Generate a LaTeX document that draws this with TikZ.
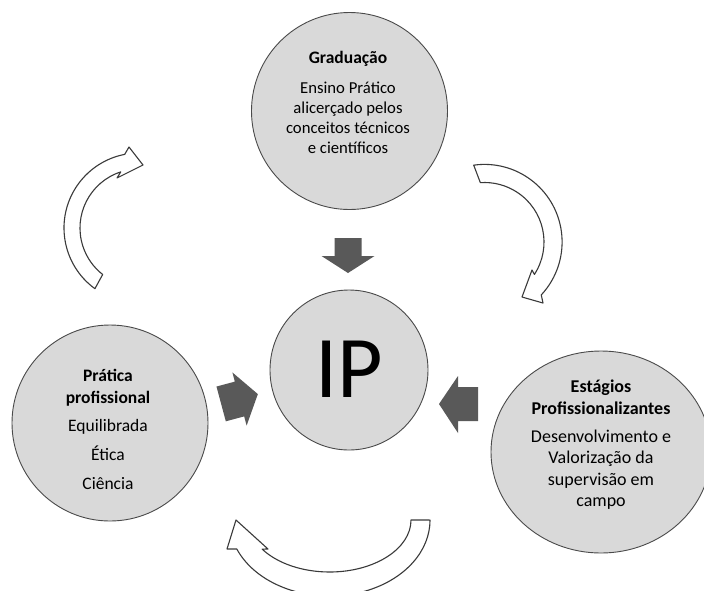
\documentclass[tikz,border=0pt]{standalone}
\usepackage{fontspec}
\setmainfont{Carlito}
\usetikzlibrary{shapes.geometric}
\definecolor{bubblefill}{HTML}{D9D9D9}
\definecolor{bubbleline}{HTML}{4A4A4A}
\definecolor{blockfill}{HTML}{595959}
\definecolor{curvline}{HTML}{3A3A3A}
\begin{document}
\begin{tikzpicture}[x=1pt,y=-1pt,
  bubble/.style={ellipse, draw=bubbleline, fill=bubblefill, line width=0.9pt, inner sep=0pt},
  blockarrow/.style={fill=blockfill, draw=none},
  curvedarrow/.style={fill=white, draw=curvline, line width=1.1pt, line join=round},
  txt/.style={align=center, inner sep=0pt, text=black}]
\clip (0,0) rectangle (704,590);
\fill[white] (0,0) rectangle (704,590);

% circles
\node[bubble, minimum width=196pt, minimum height=197pt] (grad) at (349.5,111) {};
\node[bubble, minimum width=158pt, minimum height=160pt] (ip) at (349,370) {};
\node[bubble, minimum width=196pt, minimum height=196pt] (prat) at (110,423) {};
\node[bubble, minimum width=220pt, minimum height=202pt] (estag) at (601,452) {};

% texts
\node[txt, font=\fontsize{16.7}{20}\selectfont] (gradtxt) at (348,102.5)
  {\textbf{\fontsize{17.5}{20}\selectfont Graduação}\\[10.5pt]Ensino Prático\\alicerçado pelos\\conceitos técnicos\\e científicos};
\node[txt, font=\fontsize{88}{88}\selectfont] (iptxt) at (349.5,369.5) {IP};
\node[txt, font=\fontsize{17.5}{22}\selectfont] (prattxt) at (108,429)
  {\textbf{Prática}\\\textbf{profissional}\\[6pt]Equilibrada\\[7pt]Ética\\[7pt]Ciência};
\node[txt, font=\fontsize{18}{21.5}\selectfont] (estagtxt) at (601,445)
  {\textbf{Estágios}\\\textbf{Profissionalizantes}\\[6.5pt]Desenvolvimento e\\Valorização da\\supervisão em\\campo};

% block arrows
\fill[blockarrow] (334.5,238) -- (361.5,238) -- (361.5,256) -- (374.5,256) -- (348,273)
  -- (321.5,256) -- (334.5,256) -- cycle;
\fill[blockarrow] (478,387) -- (478,421) -- (458,421) -- (458,433) -- (439,404)
  -- (458,376) -- (458,387) -- cycle;
\begin{scope}[shift={(239.5,399)}, rotate=15]
\fill[blockarrow] (-19,-18) -- (0,-18) -- (0,-27.5) -- (19,0) -- (0,27.5) -- (0,18)
  -- (-19,18) -- cycle;
\end{scope}

% curved arrows
\draw[curvedarrow] ([shift={(126:75)}]139,228) arc[start angle=126, end angle=259, radius=75]
  -- (129,147) -- (143,165) -- (117,178)
  -- ([shift={(252:59)}]139,228) arc[start angle=252, end angle=128, radius=59] -- cycle;
\draw[curvedarrow] ([shift={(-98:77.6)}]484.5,242) arc[start angle=-98, end angle=43, radius=77.6]
  -- (543,303) -- (522,297) -- (532,270)
  -- ([shift={(33:59.5)}]484.5,242) arc[start angle=33, end angle=-94, radius=59.5] -- cycle;
\draw[curvedarrow] (411,520) arc[start angle=0, end angle=146, x radius=81.4, y radius=52]
  -- (268,549) -- (236,520) -- (227,549) -- (236.8,549)
  arc[start angle=157.6, end angle=0, x radius=100.4, y radius=76] -- cycle;
\end{tikzpicture}
\end{document}
